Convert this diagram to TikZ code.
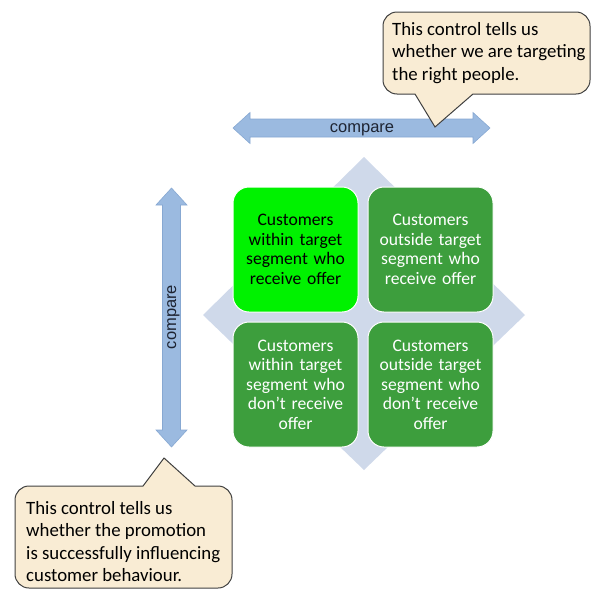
\documentclass[tikz,border=0pt]{standalone}
\usepackage{fontspec}
\setmainfont{Carlito}
\newfontfamily\arialfont{Liberation Sans}
\definecolor{diamondc}{RGB}{207,217,234}
\definecolor{arrowc}{RGB}{155,186,224}
\definecolor{arrowe}{RGB}{135,168,210}
\definecolor{brightg}{RGB}{0,242,0}
\definecolor{darkg}{RGB}{61,158,61}
\definecolor{calloutc}{RGB}{249,236,212}
\definecolor{calloute}{RGB}{64,64,64}
\definecolor{comparec}{RGB}{30,36,50}
\begin{document}
\begin{tikzpicture}[x=1pt,y=-1pt,
  quad/.style={draw=white,line width=1pt,rounded corners=16pt,minimum width=125pt,minimum height=125pt,
    inner sep=0pt,text width=122pt,align=center,font=\fontsize{17.6}{19.5}\selectfont},
  quaddark/.style={quad,fill=darkg,text=white},
  quadbright/.style={quad,fill=brightg,text=black},
  arrowshape/.style={fill=arrowc,draw=arrowe,line width=0.6pt},
  comparelabel/.style={font=\arialfont\fontsize{16.5}{18}\selectfont,text=comparec,inner sep=0pt},
  callout/.style={fill=calloutc,draw=calloute,line width=1pt},
  callouttext/.style={align=left,inner sep=0pt,font=\fontsize{18.8}{22.5}\selectfont,anchor=north west}]
\useasboundingbox (0,0) rectangle (591,589);
% diamond background
\fill[diamondc] (364,157) -- (525,315) -- (364,470) -- (203,315) -- cycle;
% quadrants
\node[quadbright] (tl) at (295.5,249.5) {Customers\\within target\\segment who\\receive offer};
\node[quaddark] (tr) at (430.5,249.5) {Customers\\outside target\\segment who\\receive offer};
\node[quaddark] (bl) at (295.5,384.5) {Customers\\within target\\segment who\\don’t receive\\offer};
\node[quaddark] (br) at (430.5,384.5) {Customers\\outside target\\segment who\\don’t receive\\offer};
% horizontal double arrow
\draw[arrowshape] (233,128) -- (250,112.5) -- (250,119) -- (473,119) -- (473,112.5) -- (490,128)
  -- (473,143.5) -- (473,137) -- (250,137) -- (250,143.5) -- cycle;
\node[comparelabel] (hcmp) at (362,130) {compare};
% vertical double arrow
\draw[arrowshape] (171.5,188) -- (187,205) -- (180.5,205) -- (180.5,430) -- (187,430) -- (171.5,447)
  -- (156,430) -- (162.5,430) -- (162.5,205) -- (156,205) -- cycle;
\node[comparelabel,rotate=90] (vcmp) at (173.5,317) {compare};
% top callout
\draw[callout] (415,94) -- (435,127) -- (473,94) [rounded corners=14pt] -- (590,94) -- (590,12)
  -- (383,12) -- (383,94) [sharp corners] -- (415,94) -- cycle;
\node[callouttext] (tc) at (392,22) {This control tells us\\whether we are targeting\\the right people.};
% bottom callout
\draw[callout] (195,486) -- (164,458) -- (143,486) [rounded corners=14pt] -- (15,486) -- (15,588)
  -- (232,588) -- (232,486) [sharp corners] -- (195,486) -- cycle;
\node[callouttext] (bc) at (26,501) {This control tells us\\whether the promotion\\is successfully influencing\\customer behaviour.};
\end{tikzpicture}
\end{document}
